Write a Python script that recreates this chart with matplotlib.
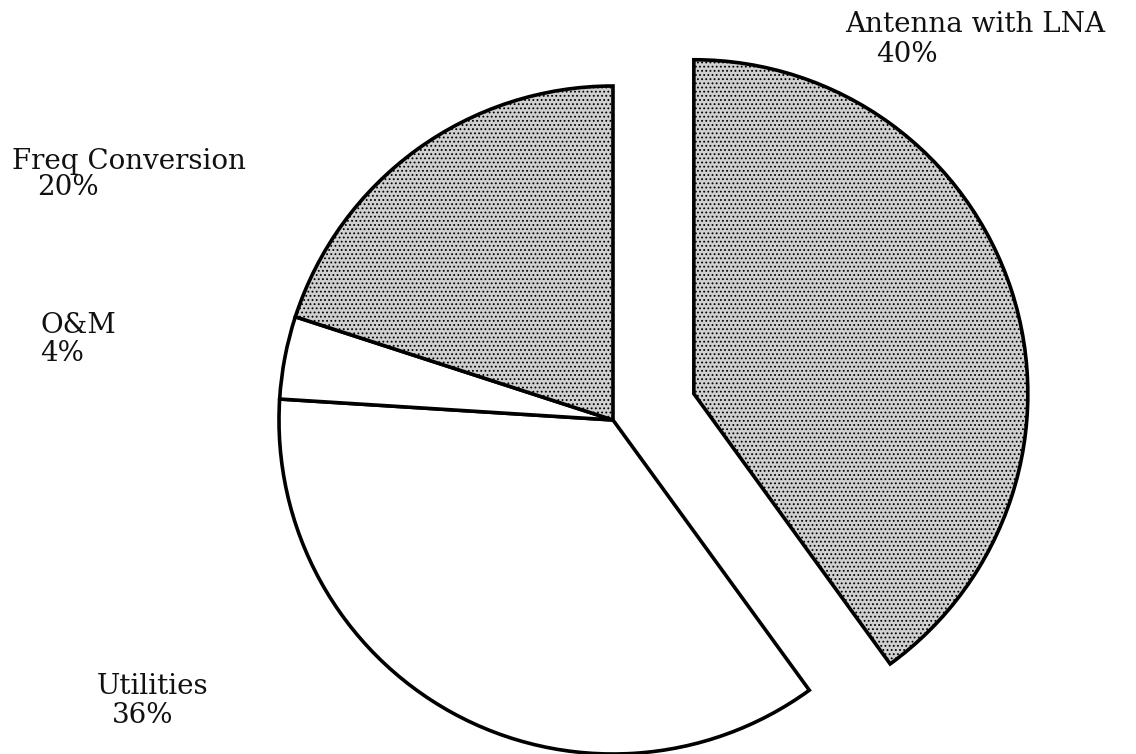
import matplotlib.pyplot as plt

# cost breakdown shares
labels = ["Antenna with LNA", "Utilities", "O&M", "Freq Conversion"]
shares = [40, 36, 4, 20]
fills = ["#d0d0d0", "white", "white", "#d0d0d0"]
hatches = ["....", "", "", "...."]

# label anchor points in pixel coords (x, y from top), left aligned
name_pos = [(845, 32), (97, 694), (40, 333), (12, 169)]
pct_pos = [(876, 62), (112, 723), (40, 361), (37, 195)]

W, H = 1136, 754
fig = plt.figure(figsize=(W / 100, H / 100), dpi=100)
ax = fig.add_axes([0, 0, 1, 1])

plt.rcParams["hatch.linewidth"] = 0.8
wedges, _ = ax.pie(shares, explode=[85, 0, 0, 0], colors=fills, startangle=90,
                   counterclock=False, center=(613, H - 420), radius=334,
                   wedgeprops=dict(edgecolor="black", linewidth=2.6, joinstyle="miter"))
for w, h in zip(wedges, hatches):
    w.set_hatch(h)

font = dict(family="DejaVu Serif", fontsize=20, color="#111111")
for name, val, (nx, ny), (px, py) in zip(labels, shares, name_pos, pct_pos):
    ax.text(nx, H - ny, name, ha="left", va="baseline", **font)
    ax.text(px, H - py, f"{val}%", ha="left", va="baseline", **font)

ax.set_xlim(0, W)
ax.set_ylim(0, H)
ax.set_aspect("equal")
ax.axis("off")

fig.savefig("out.png", dpi=100, facecolor="white")
